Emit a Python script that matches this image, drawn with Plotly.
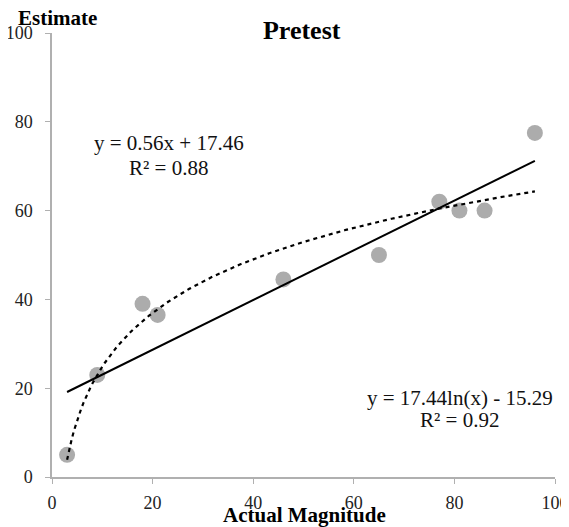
import numpy as np
import plotly.graph_objects as go

actual = [3, 9, 18, 21, 46, 65, 77, 81, 86, 96]
estimate = [5, 23, 39, 36.5, 44.5, 50, 62, 60, 60, 77.5]

lin_slope, lin_intercept = 0.56, 17.46
log_coef, log_intercept = 17.44, -15.29

xticks = [0, 20, 40, 60, 80, 100]
yticks = [0, 20, 40, 60, 80, 100]

font_family = "Liberation Serif, Times New Roman, serif"

xs = np.linspace(min(actual), max(actual), 200)
lin_y = lin_slope * xs + lin_intercept
log_y = log_coef * np.log(xs) + log_intercept

fig = go.Figure()
fig.add_trace(go.Scatter(x=actual, y=estimate, mode="markers",
                         marker=dict(size=16, color="#acacac", line=dict(width=0)),
                         showlegend=False))
fig.add_trace(go.Scatter(x=xs, y=lin_y, mode="lines",
                         line=dict(color="black", width=2), showlegend=False))
fig.add_trace(go.Scatter(x=xs, y=log_y, mode="lines",
                         line=dict(color="black", width=2.2, dash="4px,4px"), showlegend=False))

axis_common = dict(showgrid=False, zeroline=False, showline=True, linecolor="#b0b0b0",
                   linewidth=1.5, ticks="outside", ticklen=5, tickcolor="#b0b0b0",
                   automargin=False,
                   tickfont=dict(family=font_family, size=18, color="#222222"))

fig.update_xaxes(range=[0, 100], tickvals=xticks, ticklabelstandoff=4, **axis_common)
fig.update_yaxes(range=[0, 100], tickvals=yticks, ticklabelstandoff=9, **axis_common)

eq_font = dict(size=21, family=font_family, color="#111111")

fig.update_layout(
    width=561, height=519,
    margin=dict(l=44, r=14, t=25, b=50),
    plot_bgcolor="white", paper_bgcolor="white",
    title=dict(text="<b>Pretest</b>", x=0.5235, xanchor="center", y=0.9576, yanchor="middle",
               font=dict(family=font_family, size=26, color="black")),
    font=dict(family=font_family, color="black"),
    annotations=[
        dict(text="<b>Estimate</b>", xref="paper", yref="paper", x=0.01, y=1.034,
             xanchor="center", yanchor="middle", showarrow=False,
             font=dict(size=21, family=font_family, color="black")),
        dict(text="<b>Actual Magnitude</b>", xref="paper", yref="paper", x=0.501, y=-0.085,
             xanchor="center", yanchor="middle", showarrow=False,
             font=dict(size=21, family=font_family, color="black")),
        dict(text="y = 0.56x + 17.46", xref="paper", yref="paper",
             x=0.2326, y=0.752, xanchor="center", yanchor="middle", showarrow=False, font=eq_font),
        dict(text="R² = 0.88", xref="paper", yref="paper",
             x=0.2326, y=0.696, xanchor="center", yanchor="middle", showarrow=False, font=eq_font),
        dict(text="y = 17.44ln(x) - 15.29", xref="paper", yref="paper",
             x=0.811, y=0.178, xanchor="center", yanchor="middle", showarrow=False, font=eq_font),
        dict(text="R² = 0.92", xref="paper", yref="paper",
             x=0.811, y=0.129, xanchor="center", yanchor="middle", showarrow=False, font=eq_font),
    ],
)

fig.write_html("out.html")
